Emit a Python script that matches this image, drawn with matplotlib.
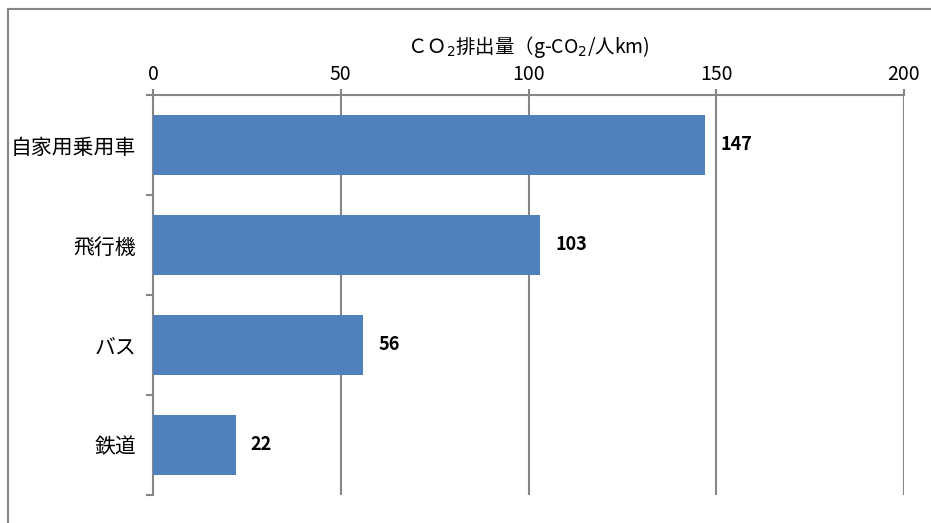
import matplotlib.pyplot as plt
from matplotlib.patches import Rectangle
import numpy as np

plt.rcParams['font.family'] = ['Noto Sans CJK JP', 'DejaVu Sans']
plt.rcParams['mathtext.fontset'] = 'dejavusans'

categories = ["自家用乗用車", "飛行機", "バス", "鉄道"]
values = [147, 103, 56, 22]
xticks = [0, 50, 100, 150, 200]
title = "ＣＯ$_2$排出量（g-CO$_2$/人km)"

bar_color = "#4F81BD"
line_color = "#868686"

fig = plt.figure(figsize=(9.31, 5.23), dpi=100)
ax = fig.add_axes([153 / 931, 1 - 495 / 523, (904 - 153) / 931, (495 - 95) / 523])

# outer chart border (right/bottom edges run off the image)
fig.patches.append(Rectangle((8 / 931, -0.1), 1.2, 1 - 9 / 523 + 0.1,
                             transform=fig.transFigure, fill=False,
                             edgecolor=line_color, linewidth=1.5))

y = np.arange(len(categories))
ax.barh(y, values, height=0.6, color=bar_color, zorder=3)
for yi, v in zip(y, values):
    ax.annotate(str(v), (v, yi), xytext=(11, 0), textcoords="offset points",
                ha="left", va="center", fontsize=13, fontweight="bold", color="black")

ax.set_xlim(0, 200)
ax.set_ylim(len(categories) - 0.5, -0.5)
ax.xaxis.tick_top()
ax.xaxis.set_label_position("top")
ax.set_xticks(xticks)
ax.set_xticklabels([str(t) for t in xticks], fontsize=14)
ax.tick_params(axis="x", length=4, width=1.5, color=line_color, pad=3)
ax.set_xlabel(title, fontsize=14, labelpad=8)

ax.set_yticks(y)
ax.set_yticklabels(categories, fontsize=15)
ax.tick_params(axis="y", which="major", length=0, pad=12)
ax.set_yticks(np.arange(len(categories) + 1) - 0.5, minor=True)
ax.tick_params(axis="y", which="minor", length=5, width=1.5, color=line_color)

ax.grid(axis="x", color=line_color, linewidth=1.5, zorder=0)
for side in ["right", "bottom"]:
    ax.spines[side].set_visible(False)
for side in ["top", "left"]:
    ax.spines[side].set_color(line_color)
    ax.spines[side].set_linewidth(1.5)

fig.savefig("out.png", dpi=100)
